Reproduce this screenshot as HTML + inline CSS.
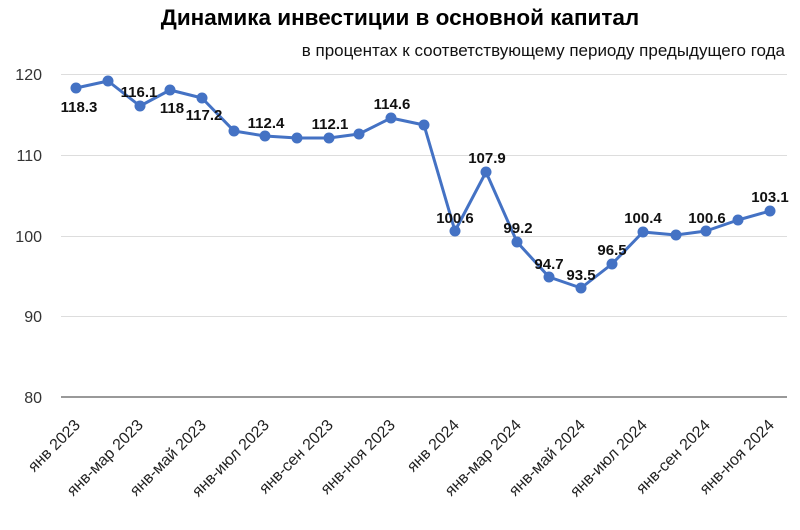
<!DOCTYPE html>
<html><head><meta charset="utf-8"><style>
body{margin:0;background:#fff;width:800px;height:525px;overflow:hidden}
svg{font-family:"Liberation Sans",Arial,sans-serif}
</style></head><body>
<svg width="800" height="525" viewBox="0 0 800 525">
<text x="400" y="25" text-anchor="middle" font-size="22.5" font-weight="bold" fill="#000">Динамика инвестиции в основной капитал</text>
<text x="785" y="56" text-anchor="end" font-size="17" fill="#111">в процентах к соответствующему периоду предыдущего года</text>
<g stroke="#ddd" stroke-width="1">
<line x1="61" x2="787" y1="74.5" y2="74.5"/>
<line x1="61" x2="787" y1="155.5" y2="155.5"/>
<line x1="61" x2="787" y1="236.5" y2="236.5"/>
<line x1="61" x2="787" y1="316.5" y2="316.5"/>
</g>
<line x1="61" x2="787" y1="397" y2="397" stroke="#333" stroke-width="1"/>
<g font-size="16" fill="#333" text-anchor="end">
<text x="42" y="80">120</text><text x="42" y="161">110</text><text x="42" y="242">100</text><text x="42" y="322">90</text><text x="42" y="403">80</text>
</g>
<polyline fill="none" stroke="#4472c4" stroke-width="3" stroke-linejoin="round" points="76,88 108,81 140,106 170,90 202,98 234,131 265,136 297,138 329,138 359,134 391,118 424,125 455,231 486,172 517,242 549,277 581,288 612,264 643,232 676,235 706,231 738,220 770,211"/>
<g fill="#4472c4">
<circle cx="76" cy="88" r="5.5"/><circle cx="108" cy="81" r="5.5"/><circle cx="140" cy="106" r="5.5"/><circle cx="170" cy="90" r="5.5"/><circle cx="202" cy="98" r="5.5"/><circle cx="234" cy="131" r="5.5"/><circle cx="265" cy="136" r="5.5"/><circle cx="297" cy="138" r="5.5"/><circle cx="329" cy="138" r="5.5"/><circle cx="359" cy="134" r="5.5"/><circle cx="391" cy="118" r="5.5"/><circle cx="424" cy="125" r="5.5"/><circle cx="455" cy="231" r="5.5"/><circle cx="486" cy="172" r="5.5"/><circle cx="517" cy="242" r="5.5"/><circle cx="549" cy="277" r="5.5"/><circle cx="581" cy="288" r="5.5"/><circle cx="612" cy="264" r="5.5"/><circle cx="643" cy="232" r="5.5"/><circle cx="676" cy="235" r="5.5"/><circle cx="706" cy="231" r="5.5"/><circle cx="738" cy="220" r="5.5"/><circle cx="770" cy="211" r="5.5"/>
</g>
<g font-size="15" font-weight="bold" fill="#111" text-anchor="middle">
<text x="79" y="112">118.3</text><text x="139" y="97">116.1</text><text x="172" y="113">118</text><text x="204" y="120">117.2</text>
<text x="266" y="128">112.4</text><text x="330" y="129">112.1</text><text x="392" y="109">114.6</text>
<text x="455" y="223">100.6</text><text x="487" y="163">107.9</text><text x="518" y="233">99.2</text><text x="549" y="269">94.7</text><text x="581" y="280">93.5</text><text x="612" y="255">96.5</text><text x="643" y="223">100.4</text><text x="707" y="223">100.6</text><text x="770" y="202">103.1</text>
</g>
<g font-size="16" fill="#222" text-anchor="end">
<text transform="translate(81,426) rotate(-45)">янв 2023</text>
<text transform="translate(144,426) rotate(-45)">янв-мар 2023</text>
<text transform="translate(207,426) rotate(-45)">янв-май 2023</text>
<text transform="translate(270,426) rotate(-45)">янв-июл 2023</text>
<text transform="translate(334,426) rotate(-45)">янв-сен 2023</text>
<text transform="translate(396,426) rotate(-45)">янв-ноя 2023</text>
<text transform="translate(460,426) rotate(-45)">янв 2024</text>
<text transform="translate(522,426) rotate(-45)">янв-мар 2024</text>
<text transform="translate(586,426) rotate(-45)">янв-май 2024</text>
<text transform="translate(648,426) rotate(-45)">янв-июл 2024</text>
<text transform="translate(711,426) rotate(-45)">янв-сен 2024</text>
<text transform="translate(775,426) rotate(-45)">янв-ноя 2024</text>
</g>
</svg>
</body></html>
